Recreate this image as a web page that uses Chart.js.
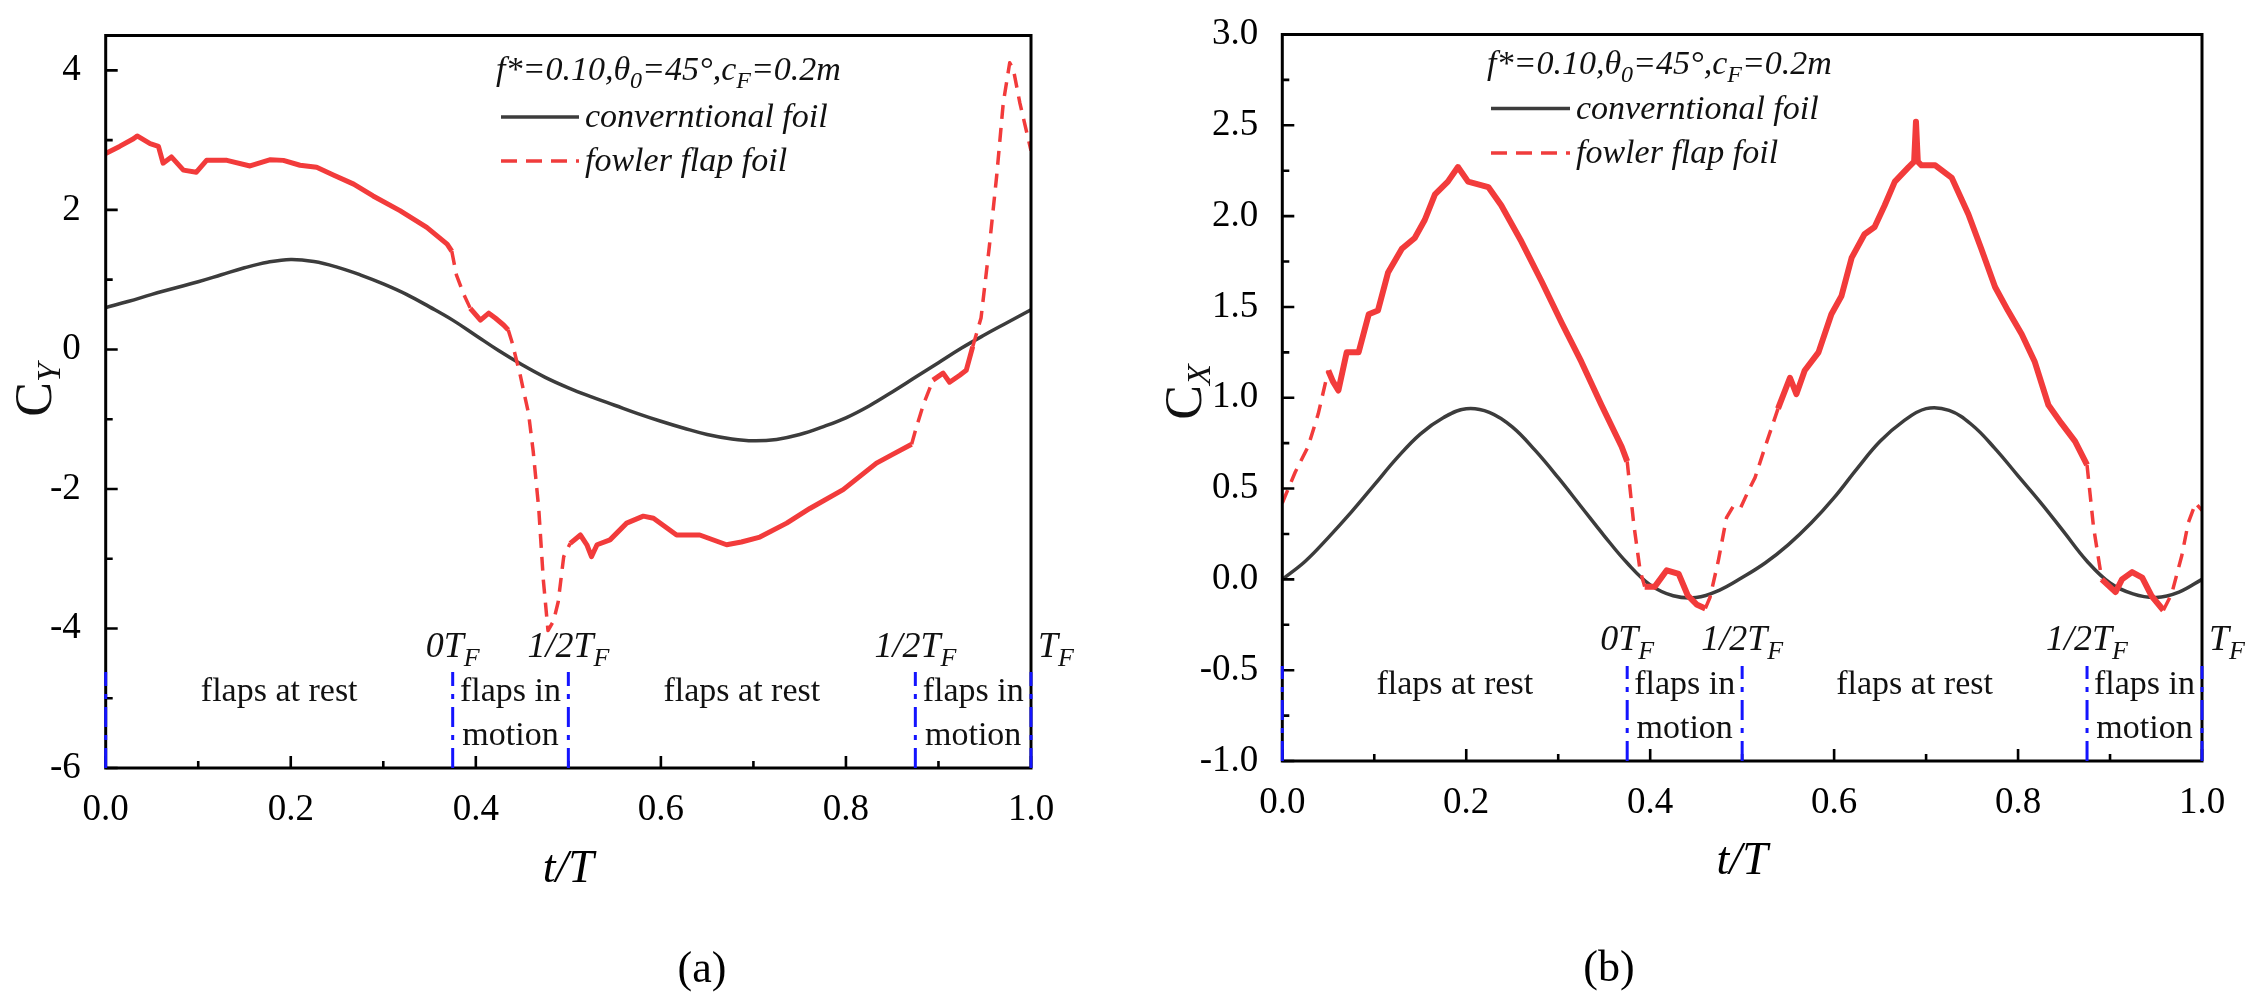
<!DOCTYPE html>
<html><head><meta charset="utf-8">
<script src="https://cdn.jsdelivr.net/npm/chart.js@4.4.1/dist/chart.umd.min.js"></script>
<style>
html,body{margin:0;padding:0;background:#fff;}
#wrap{position:relative;width:2253px;height:996px;overflow:hidden;background:#fff;}
canvas{position:absolute;top:0;}
#ca{left:0;} #cb{left:1126px;}
</style></head><body>
<div id="wrap"><canvas id="ca" width="1126" height="996"></canvas><canvas id="cb" width="1127" height="996"></canvas></div>
<script>
// ---------- DATA ----------
// (a) lift coefficient C_Y
const tConvA  = [0.000,0.025,0.050,0.075,0.100,0.125,0.150,0.175,0.200,0.225,0.250,0.275,0.300,0.325,0.350,0.375,0.400,0.425,0.450,0.475,0.500,0.525,0.550,0.575,0.600,0.625,0.650,0.675,0.700,0.725,0.750,0.775,0.800,0.825,0.850,0.875,0.900,0.925,0.950,0.975,1.000];
const cyConvA = [0.60,0.69,0.79,0.88,0.97,1.07,1.17,1.25,1.29,1.26,1.18,1.07,0.94,0.79,0.61,0.42,0.20,-0.02,-0.22,-0.40,-0.55,-0.68,-0.80,-0.92,-1.03,-1.13,-1.22,-1.28,-1.31,-1.29,-1.22,-1.11,-0.98,-0.81,-0.61,-0.40,-0.19,0.02,0.21,0.39,0.57];
const tFlapA  = [0.000,0.015,0.030,0.034,0.048,0.057,0.062,0.071,0.084,0.098,0.109,0.131,0.156,0.178,0.192,0.210,0.228,0.246,0.268,0.289,0.318,0.347,0.369,0.374,0.379,0.387,0.394,0.405,0.414,0.421,0.430,0.435,0.439,0.448,0.457,0.462,0.468,0.473,0.478,0.484,0.489,0.495,0.502,0.513,0.520,0.525,0.531,0.545,0.563,0.581,0.592,0.617,0.642,0.671,0.687,0.707,0.736,0.761,0.797,0.833,0.851,0.871,0.876,0.884,0.894,0.905,0.912,0.923,0.930,0.937,0.946,0.955,0.963,0.970,0.977,0.981,0.988,1.000];
const cyFlapA = [2.81,2.91,3.02,3.06,2.95,2.91,2.67,2.76,2.57,2.54,2.71,2.71,2.63,2.72,2.71,2.64,2.61,2.50,2.37,2.20,1.99,1.75,1.51,1.41,1.07,0.79,0.59,0.42,0.52,0.45,0.35,0.28,0.11,-0.37,-0.92,-1.46,-2.28,-3.31,-4.03,-3.89,-3.62,-2.97,-2.78,-2.66,-2.80,-2.97,-2.80,-2.73,-2.49,-2.39,-2.42,-2.66,-2.66,-2.80,-2.76,-2.69,-2.49,-2.28,-2.01,-1.63,-1.50,-1.36,-1.12,-0.78,-0.44,-0.34,-0.47,-0.37,-0.30,0.04,0.45,1.48,2.50,3.53,4.11,4.01,3.53,2.85];
// (b) thrust coefficient C_X
const tConvB  = [0.000,0.025,0.050,0.075,0.100,0.125,0.150,0.175,0.200,0.225,0.250,0.275,0.300,0.325,0.350,0.375,0.400,0.425,0.450,0.475,0.500,0.525,0.550,0.575,0.600,0.625,0.650,0.675,0.700,0.725,0.750,0.775,0.800,0.825,0.850,0.875,0.900,0.925,0.950,0.975,1.000];
const cxConvB = [0.00,0.10,0.23,0.37,0.52,0.67,0.80,0.89,0.94,0.92,0.84,0.71,0.56,0.40,0.24,0.09,-0.03,-0.09,-0.10,-0.06,0.01,0.09,0.19,0.31,0.45,0.61,0.76,0.87,0.94,0.93,0.85,0.72,0.57,0.42,0.26,0.10,-0.02,-0.08,-0.10,-0.07,0.00];
const tFlapB  = [0.000,0.014,0.028,0.039,0.050,0.055,0.061,0.070,0.083,0.094,0.104,0.115,0.130,0.144,0.155,0.166,0.180,0.191,0.202,0.224,0.238,0.260,0.282,0.304,0.325,0.347,0.369,0.375,0.382,0.389,0.394,0.405,0.418,0.431,0.441,0.451,0.460,0.465,0.474,0.483,0.490,0.498,0.507,0.514,0.525,0.539,0.552,0.559,0.568,0.583,0.597,0.608,0.619,0.633,0.644,0.655,0.666,0.681,0.687,0.689,0.691,0.695,0.710,0.728,0.746,0.760,0.775,0.789,0.804,0.818,0.833,0.847,0.862,0.875,0.882,0.891,0.906,0.913,0.924,0.935,0.945,0.958,0.967,0.978,0.985,0.993,1.000];
const cxFlapB = [0.42,0.59,0.73,0.91,1.15,1.09,1.04,1.25,1.25,1.46,1.48,1.69,1.82,1.88,1.98,2.12,2.19,2.27,2.19,2.16,2.06,1.86,1.64,1.41,1.20,0.96,0.73,0.65,0.31,0.05,-0.04,-0.04,0.05,0.03,-0.09,-0.14,-0.16,-0.10,0.10,0.34,0.40,0.39,0.49,0.56,0.73,0.94,1.11,1.02,1.15,1.25,1.46,1.56,1.77,1.90,1.94,2.06,2.19,2.27,2.30,2.52,2.30,2.28,2.28,2.21,2.01,1.82,1.61,1.48,1.35,1.20,0.96,0.86,0.76,0.63,0.29,0.00,-0.07,0.00,0.04,0.01,-0.09,-0.17,-0.08,0.13,0.31,0.42,0.38];
// ticks & annotations
const xTickVals  = [0,0.2,0.4,0.6,0.8,1.0];
const xMinorVals = [0.1,0.3,0.5,0.7,0.9];
const yTickValsA = [-6,-4,-2,0,2,4];
const yMinorA    = [-5,-3,-1,1,3];
const yTickValsB = [-1,-0.5,0,0.5,1,1.5,2,2.5,3];
const yMinorB    = [-0.75,-0.25,0.25,0.75,1.25,1.75,2.25,2.75];
const phaseMarks = [0,0.375,0.5,0.875,1.0];
const phaseTopLabels = [null,['0T','F'],['1/2T','F'],['1/2T','F'],['T','F']];
const regionCenters = [0.1875,0.4375,0.6875,0.9375];
const regionLines = [['flaps at rest'],['flaps in','motion'],['flaps at rest'],['flaps in','motion']];
const seriesNames = ['converntional foil','fowler flap foil'];
const headerParts = [['f*=0.10,\u03B8',0],['0',1],['=45\u00B0,c',0],['F',1],['=0.2m',0]];
// line-style ranges (where the flap curve shows as dashed)
const dashRangesA = [[0.372,0.395],[0.437,0.503],[0.872,0.893],[0.934,1.0]];
const dashRangesB = [[0.0,0.046],[0.373,0.392],[0.462,0.545],[0.873,0.893],[0.962,1.0]];

// ---------- RENDER ----------
const FONT = "'Liberation Serif','Times New Roman',serif";
Chart.defaults.font.family = FONT;
Chart.defaults.color = '#000';
function zip(xs,ys){return xs.map((x,i)=>({x:x,y:ys[i]}));}
function inRanges(t,r){return r.some(q=>t>=q[0]&&t<=q[1]);}
function fnt(p){return (p.it?'italic ':'')+p.s+'px '+FONT;}
function rich(ctx,parts,x,y,align){
  let w=0; parts.forEach(p=>{ctx.font=fnt(p);p.w=ctx.measureText(p.t).width;w+=p.w;});
  let cx = align==='center'?x-w/2:(align==='right'?x-w:x);
  ctx.textAlign='left';
  parts.forEach(p=>{ctx.font=fnt(p);ctx.fillText(p.t,cx,y+(p.dy||0));cx+=p.w;});
}

function deco(P){
  return {id:'deco', afterDraw(chart){
    const ctx=chart.ctx, a=chart.chartArea, xs=chart.scales.x, ys=chart.scales.y;
    ctx.save();
    // frame
    ctx.setLineDash([]); ctx.strokeStyle='#000'; ctx.lineWidth=3;
    ctx.strokeRect(a.left,a.top,a.right-a.left,a.bottom-a.top);
    // inward ticks
    ctx.lineWidth=2.6; ctx.beginPath();
    xTickVals.forEach(v=>{const p=xs.getPixelForValue(v);ctx.moveTo(p,a.bottom);ctx.lineTo(p,a.bottom-12);});
    xMinorVals.forEach(v=>{const p=xs.getPixelForValue(v);ctx.moveTo(p,a.bottom);ctx.lineTo(p,a.bottom-7);});
    P.yTicks.forEach(v=>{const p=ys.getPixelForValue(v);ctx.moveTo(a.left,p);ctx.lineTo(a.left+12,p);});
    P.yMinor.forEach(v=>{const p=ys.getPixelForValue(v);ctx.moveTo(a.left,p);ctx.lineTo(a.left+7,p);});
    ctx.stroke();
    // blue phase lines
    ctx.strokeStyle='#1414ff'; ctx.lineWidth=3; ctx.setLineDash([20,8,5,8]);
    phaseMarks.forEach(v=>{const p=xs.getPixelForValue(v);ctx.beginPath();ctx.moveTo(p,a.bottom);ctx.lineTo(p,a.bottom-P.blueH);ctx.stroke();});
    ctx.setLineDash([]);
    // phase labels
    ctx.fillStyle='#111'; ctx.textBaseline='alphabetic';
    phaseMarks.forEach((v,i)=>{
      const lab=phaseTopLabels[i]; if(!lab) return;
      const p=xs.getPixelForValue(v);
      const parts=[{t:lab[0],s:36,it:1},{t:lab[1],s:26,it:1,dy:9}];
      if(i===phaseMarks.length-1) rich(ctx,parts,p+7,a.bottom-111,'left');
      else rich(ctx,parts,p,a.bottom-111,'center');
    });
    // region labels
    ctx.font='34px '+FONT; ctx.textAlign='center';
    regionCenters.forEach((v,i)=>{
      const p=xs.getPixelForValue(v);
      const L=regionLines[i];
      if(L.length===1) ctx.fillText(L[0],p,a.bottom-67);
      else {ctx.fillText(L[0],p,a.bottom-67);ctx.fillText(L[1],p,a.bottom-23);}
    });
    // legend
    const lg=P.legend;
    rich(ctx,headerParts.map(h=>h[1]?{t:h[0],s:24,it:1,dy:8}:{t:h[0],s:34,it:1}),lg.hx,lg.hy,'left');
    ctx.lineWidth=3.5;
    ctx.strokeStyle='#3c3c3c'; ctx.setLineDash([]);
    ctx.beginPath();ctx.moveTo(lg.lx0,lg.rows[0]);ctx.lineTo(lg.lx1,lg.rows[0]);ctx.stroke();
    ctx.strokeStyle='#f03c3c'; ctx.setLineDash([16,9]);
    ctx.beginPath();ctx.moveTo(lg.lx0,lg.rows[1]);ctx.lineTo(lg.lx1,lg.rows[1]);ctx.stroke();
    ctx.setLineDash([]);
    ctx.font='italic 34px '+FONT; ctx.textAlign='left'; ctx.fillStyle='#111';
    ctx.fillText(seriesNames[0],lg.tx,lg.rows[0]+10);
    ctx.fillText(seriesNames[1],lg.tx,lg.rows[1]+10);
    // y title
    ctx.save(); ctx.translate(P.yTitle[0],P.yTitle[1]); ctx.rotate(-Math.PI/2);
    rich(ctx,[{t:'C',s:52},{t:P.ySub,s:34,it:1,dy:9}],0,17,'center');
    ctx.restore();
    // panel label
    ctx.font='44px '+FONT; ctx.textAlign='center'; ctx.fillStyle='#000';
    ctx.fillText(P.tag,P.tagPos[0],P.tagPos[1]);
    ctx.restore();
  }};
}

function build(id,P){
  const W=P.canvasW, A=P.area, Wy=90;
  const Hx=P.titleCenter+31.6-A.bottom;
  return new Chart(document.getElementById(id),{
    type:'line',
    data:{datasets:[
      {label:seriesNames[1],data:P.flap,borderColor:'#f23b3b',borderWidth:P.redW,pointRadius:0,tension:0,order:0,borderJoinStyle:'round',
       segment:{borderDash:c=>inRanges((c.p0.parsed.x+c.p1.parsed.x)/2,P.dash)?[14,9]:undefined,
                borderWidth:c=>inRanges((c.p0.parsed.x+c.p1.parsed.x)/2,P.dash)?3.5:undefined}},
      {label:seriesNames[0],data:P.conv,borderColor:'#3c3c3c',borderWidth:3.5,pointRadius:0,tension:0.4,order:1}
    ]},
    options:{
      responsive:false,animation:false,devicePixelRatio:1,
      layout:{padding:{left:A.left-Wy,right:W-A.right,top:A.top,bottom:996-A.bottom-Hx}},
      plugins:{legend:{display:false},tooltip:{enabled:false}},
      scales:{
        x:{type:'linear',min:0,max:1,grid:{display:false},border:{display:false},
           afterBuildTicks:s=>{s.ticks=xTickVals.map(v=>({value:v}));},
           afterFit:s=>{s.height=Hx;},
           ticks:{padding:16,font:{size:37,lineHeight:1},color:'#000',maxRotation:0,autoSkip:false,callback:v=>v.toFixed(1)},
           title:{display:true,text:'t/T',font:{size:46,style:'italic'},color:'#000',padding:{top:0,bottom:4}}},
        y:{type:'linear',min:P.yMin,max:P.yMax,grid:{display:false},border:{display:false},
           afterBuildTicks:s=>{s.ticks=P.yTicks.map(v=>({value:v}));},
           afterFit:s=>{s.width=Wy;},
           ticks:{padding:P.yPad,font:{size:37,lineHeight:1},color:'#000',autoSkip:false,callback:P.yFmt}}
      }
    },
    plugins:[deco(P)]
  });
}

build('ca',{
  conv:zip(tConvA,cyConvA),flap:zip(tFlapA,cyFlapA),dash:dashRangesA,redW:5,
  yMin:-6,yMax:4.5,yTicks:yTickValsA,yMinor:yMinorA,yFmt:v=>String(v),yPad:17,
  canvasW:1126,area:{left:105.7,right:1031,top:24,bottom:768},titleCenter:870,blueH:96,
  legend:{hx:496,hy:80,lx0:501,lx1:579,tx:585,rows:[117,161]},
  yTitle:[34,390],ySub:'Y',tag:'(a)',tagPos:[702,982]
});
build('cb',{
  conv:zip(tConvB,cxConvB),flap:zip(tFlapB,cxFlapB),dash:dashRangesB,redW:6,
  yMin:-1,yMax:3,yTicks:yTickValsB,yMinor:yMinorB,yFmt:v=>v.toFixed(1),yPad:16,
  canvasW:1127,area:{left:156.3,right:1076,top:21,bottom:761},titleCenter:862,blueH:95,
  legend:{hx:361,hy:74,lx0:365,lx1:444,tx:450,rows:[108.5,153]},
  yTitle:[58,392],ySub:'X',tag:'(b)',tagPos:[483,981]
});
</script>
</body></html>
